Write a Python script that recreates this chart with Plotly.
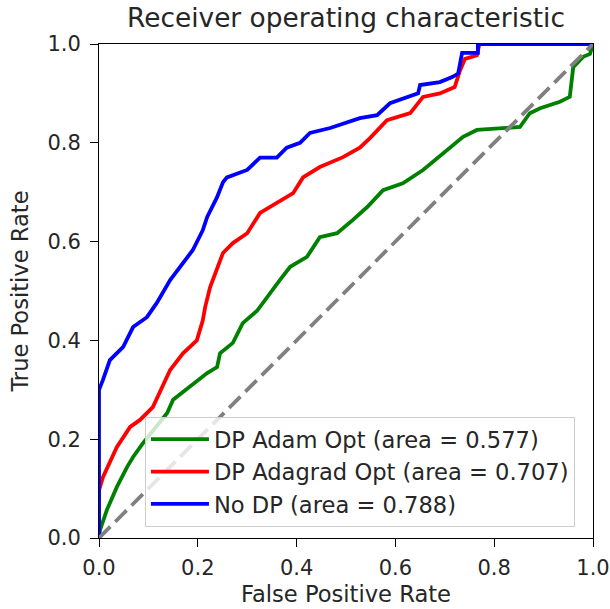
import plotly.graph_objects as go

# ---- data ----
nodp_fpr = [0, 0, 0.008, 0.022, 0.049, 0.069, 0.097, 0.117, 0.144, 0.17, 0.19, 0.21, 0.219, 0.239, 0.251, 0.259,
            0.30, 0.326, 0.36, 0.38, 0.407, 0.427, 0.468, 0.528, 0.563, 0.589, 0.646, 0.65, 0.69, 0.715, 0.727,
            0.735, 0.767, 0.767, 1.0]
nodp_tpr = [0, 0.30, 0.32, 0.36, 0.387, 0.427, 0.447, 0.476, 0.522, 0.557, 0.583, 0.623, 0.65, 0.69, 0.72, 0.73,
            0.745, 0.77, 0.77, 0.79, 0.80, 0.82, 0.83, 0.85, 0.856, 0.88, 0.90, 0.917, 0.923, 0.933, 0.94,
            0.982, 0.982, 1.0, 1.0]

adagrad_fpr = [0, 0, 0.008, 0.022, 0.036, 0.063, 0.083, 0.109, 0.144, 0.17, 0.198, 0.21, 0.215, 0.225, 0.239,
               0.251, 0.271, 0.30, 0.326, 0.36, 0.393, 0.413, 0.447, 0.494, 0.528, 0.549, 0.583, 0.63, 0.656,
               0.69, 0.72, 0.731, 0.741, 0.765, 0.77, 1.0]
adagrad_tpr = [0, 0.097, 0.123, 0.152, 0.184, 0.225, 0.239, 0.265, 0.34, 0.374, 0.40, 0.44, 0.468, 0.508, 0.543,
               0.577, 0.597, 0.617, 0.658, 0.678, 0.698, 0.73, 0.751, 0.771, 0.79, 0.81, 0.846, 0.86, 0.893,
               0.90, 0.913, 0.947, 0.97, 0.977, 1.0, 1.0]

adam_fpr = [0, 0.002, 0.016, 0.036, 0.057, 0.069, 0.089, 0.138, 0.15, 0.184, 0.219, 0.239, 0.245, 0.271, 0.291,
            0.32, 0.346, 0.366, 0.387, 0.421, 0.447, 0.482, 0.514, 0.543, 0.575, 0.615, 0.656, 0.704, 0.737,
            0.765, 0.852, 0.872, 0.893, 0.933, 0.953, 0.96, 0.98, 0.994, 1.0]
adam_tpr = [0, 0.016, 0.057, 0.103, 0.144, 0.164, 0.192, 0.253, 0.28, 0.306, 0.334, 0.346, 0.374, 0.395, 0.435,
            0.46, 0.496, 0.522, 0.549, 0.569, 0.609, 0.617, 0.644, 0.67, 0.704, 0.718, 0.745, 0.785, 0.812,
            0.826, 0.832, 0.86, 0.87, 0.883, 0.893, 0.953, 0.974, 0.98, 1.0]

chance = [0, 1]

labels = ["DP Adam Opt (area = 0.577)", "DP Adagrad Opt (area = 0.707)", "No DP (area = 0.788)"]
ticks = [0.0, 0.2, 0.4, 0.6, 0.8, 1.0]

FONT = "DejaVu Sans"
TXT = "#262626"
LW = 3.8

fig = go.Figure()
fig.add_trace(go.Scatter(x=adam_fpr, y=adam_tpr, mode="lines", name=labels[0],
                         line=dict(color="green", width=LW)))
fig.add_trace(go.Scatter(x=adagrad_fpr, y=adagrad_tpr, mode="lines", name=labels[1],
                         line=dict(color="red", width=LW)))
fig.add_trace(go.Scatter(x=nodp_fpr, y=nodp_tpr, mode="lines", name=labels[2],
                         line=dict(color="blue", width=LW)))
fig.add_trace(go.Scatter(x=chance, y=chance, mode="lines", showlegend=False,
                         line=dict(color="gray", width=LW, dash="16px,7px")))

axis_common = dict(range=[0, 1], tickvals=ticks, tickformat=".1f", showgrid=False, zeroline=False,
                   showline=True, linecolor="black", linewidth=1, mirror=True, automargin=False,
                   ticks="outside", ticklen=8, tickcolor="black",
                   tickfont=dict(family=FONT, size=21, color=TXT))

fig.update_layout(
    width=610, height=609,
    margin=dict(l=99, r=17, t=44, b=71),
    paper_bgcolor="white", plot_bgcolor="white",
    title=dict(text="Receiver operating characteristic", x=0.5, xref="paper",
               y=1 - 18 / 609, yref="container", yanchor="middle", xanchor="center",
               font=dict(family=FONT, size=26.4, color=TXT)),
    xaxis=dict(**axis_common, ticklabelstandoff=3,
               title=dict(text="False Positive Rate", standoff=6,
                          font=dict(family=FONT, size=22.6, color=TXT))),
    yaxis=dict(**axis_common, ticklabelstandoff=5,
               title=dict(text="True Positive Rate", standoff=12,
                          font=dict(family=FONT, size=22.6, color=TXT))),
    legend=dict(x=0.093, y=0.245, xanchor="left", yanchor="top",
                bgcolor="rgba(255,255,255,0.8)", bordercolor="#cccccc", borderwidth=1,
                font=dict(family=FONT, size=22.6, color=TXT), tracegroupgap=0,
                itemwidth=58),
)

fig.write_html("out.html")
